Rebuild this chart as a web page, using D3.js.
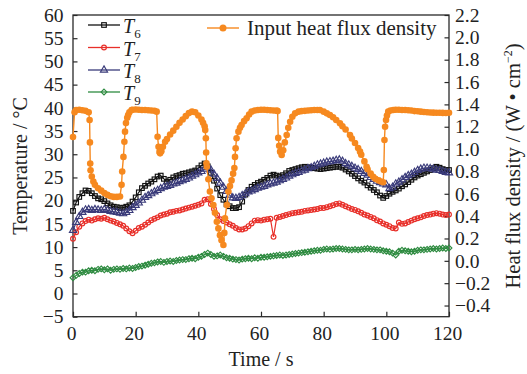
<!DOCTYPE html>
<html><head><meta charset="utf-8">
<script src="https://cdn.jsdelivr.net/npm/d3@7"></script>
<style>
body{margin:0;background:#fff}
svg{display:block}
text{font-family:"Liberation Serif","Times New Roman",serif;fill:#222}
</style>
</head><body>
<svg id="c" width="527" height="374"></svg>
<script>
// ---------- data ----------
const xTicks = [0, 20, 40, 60, 80, 100, 120];
const tempTicks = [-5, 0, 5, 10, 15, 20, 25, 30, 35, 40, 45, 50, 55, 60];
const fluxTicks = [-0.4, -0.2, 0.0, 0.2, 0.4, 0.6, 0.8, 1.0, 1.2, 1.4, 1.6, 1.8, 2.0, 2.2];

// temperatures sampled every 1 s, 0..120 s
const T6 = [17.8,19.6,20.8,21.6,22.2,22.1,21.6,21.0,20.5,20.3,
  19.9,19.4,19.0,18.7,18.6,18.4,18.5,18.7,19.0,19.8,
  20.7,21.8,22.7,23.2,23.7,24.1,24.6,25.2,25.4,24.7,
  24.1,24.5,25.0,25.3,25.5,25.8,25.9,26.1,26.3,26.5,
  27.0,27.6,28.0,27.4,26.0,24.3,22.6,21.2,20.2,19.2,
  18.8,18.4,18.4,18.6,19.8,21.3,22.3,23.0,23.4,23.8,
  24.1,24.5,24.9,25.4,25.6,25.4,25.2,25.5,25.9,26.4,
  26.6,26.8,27.0,27.2,27.3,27.2,27.1,27.0,26.9,26.8,
  26.9,27.0,27.1,27.2,27.3,27.3,27.1,26.7,26.3,25.8,
  25.3,24.8,24.3,23.9,23.3,22.8,22.3,21.8,21.1,20.6,
  21.0,21.5,21.9,22.2,22.6,23.1,23.5,24.0,24.5,25.0,
  25.4,25.7,26.0,26.3,26.6,27.0,27.3,27.1,26.8,26.6,
  26.6];
const T7 = [11.8,13.2,14.4,15.1,15.6,15.9,15.7,16.0,16.2,16.1,
  16.3,16.0,15.7,15.5,15.2,14.9,14.6,14.0,13.4,13.0,
  13.5,14.1,14.4,14.8,15.3,15.8,16.1,16.4,16.8,17.0,
  17.2,17.5,17.6,17.8,17.9,18.1,18.3,18.5,18.7,18.9,
  19.1,19.4,20.2,20.3,19.3,18.2,16.9,16.0,15.6,15.3,
  14.9,14.6,14.1,13.8,13.8,14.0,14.5,15.1,15.7,15.8,
  15.7,15.9,16.0,16.1,12.2,16.3,16.5,16.7,16.9,17.1,
  17.3,17.4,17.5,17.6,17.8,17.9,18.0,18.1,18.2,18.4,
  18.4,18.6,18.8,19.0,19.3,19.4,19.1,18.8,18.5,18.2,
  18.0,17.7,17.4,17.0,16.8,16.5,16.2,15.8,15.5,15.1,
  14.8,14.5,14.1,14.0,15.3,15.0,15.1,15.4,15.7,16.0,
  16.2,16.4,16.7,16.9,17.0,17.2,17.3,17.2,17.0,16.9,
  17.0];
const T8 = [13.6,15.3,16.6,17.5,18.0,18.1,17.9,18.1,18.0,17.9,
  18.1,17.9,17.7,17.6,17.5,17.3,17.2,17.5,17.9,18.5,
  19.0,19.5,20.1,20.7,21.1,21.5,21.9,22.2,22.6,22.9,
  23.1,23.3,23.6,23.8,24.1,24.3,24.6,24.9,25.3,25.6,
  26.0,26.3,26.8,27.2,26.6,25.7,24.8,23.8,22.9,22.0,
  21.2,20.6,20.5,20.7,21.1,21.5,21.9,22.1,22.4,22.7,
  22.9,23.1,23.4,23.6,23.8,24.0,24.3,24.6,24.9,25.3,
  25.6,25.9,26.1,26.4,26.6,26.9,27.1,27.4,27.7,27.9,
  28.1,28.3,28.4,28.5,28.7,28.8,28.5,28.0,27.7,27.4,
  27.0,26.7,26.3,25.9,25.5,25.0,24.6,24.2,23.9,23.6,
  23.4,22.6,22.9,23.6,24.0,24.5,25.0,25.4,25.7,26.1,
  26.5,26.8,27.0,27.0,26.9,26.8,26.6,26.5,26.3,26.1,
  26.0];
const T9 = [3.4,3.9,4.3,4.6,4.6,4.9,5.0,4.9,5.2,5.3,
  5.1,5.3,5.0,5.2,5.3,5.2,5.4,5.3,5.5,5.4,
  5.6,5.8,5.9,6.1,6.3,6.5,6.6,6.8,6.9,6.7,
  6.9,7.0,6.9,7.1,7.2,7.3,7.3,7.5,7.6,7.5,
  7.8,8.0,8.4,8.7,8.4,8.0,8.1,8.3,8.0,7.7,
  7.6,7.4,7.3,7.2,7.4,7.5,7.6,7.5,7.7,7.6,
  7.8,7.8,7.9,8.0,8.1,8.2,8.3,8.2,8.3,8.4,
  8.5,8.6,8.7,8.8,8.9,9.0,9.1,9.2,9.3,9.3,
  9.5,9.6,9.5,9.6,9.7,9.7,9.6,9.5,9.4,9.4,
  9.5,9.4,9.5,9.6,9.7,9.6,9.5,9.4,9.4,9.2,
  9.1,9.0,8.7,8.3,9.1,9.3,9.2,9.1,9.0,9.1,
  9.3,9.4,9.4,9.5,9.6,9.7,9.6,9.7,9.8,9.7,
  9.8];

// input heat flux density [time s, W/cm2]
const fluxData = [[0,1.108],[0.5,1.33],[1,1.35],[2,1.352],[3,1.348],[4,1.342],[5,1.33],
  [5.3,1.26],[5.4,1.06],[5.5,0.87],[5.6,0.81],[6,0.755],[6.5,0.71],[7,0.68],[8,0.65],[9,0.628],
  [10,0.606],[11,0.59],[12,0.578],[13,0.572],[14,0.572],[15,0.576],[15.5,0.68],[15.7,0.80],
  [16.1,0.93],[16.4,1.066],[16.6,1.156],[16.9,1.233],[17.3,1.28],[17.6,1.305],[18,1.33],
  [18.7,1.35],[19,1.352],[20,1.354],[21,1.352],[22,1.35],[23,1.35],[24,1.348],[25,1.345],
  [26,1.343],[26.7,1.335],[27,1.11],[27.3,1.02],[27.6,0.975],[27.8,0.962],[28.2,0.98],
  [28.7,1.02],[29.4,1.066],[30,1.09],[31,1.13],[32,1.165],[33,1.2],[34,1.235],[35,1.265],
  [36,1.295],[37,1.322],[38,1.335],[39,1.33],[40,1.30],[41,1.265],[41.5,1.235],[42,1.205],
  [42.2,1.17],[42.4,1.097],[42.5,0.97],[42.6,0.873],[42.7,0.842],[43.2,0.73],[43.7,0.62],
  [44.2,0.56],[44.8,0.5],[45.3,0.43],[45.9,0.35],[46.4,0.29],[46.9,0.23],[47.4,0.185],
  [48,0.142],[48.3,0.25],[48.5,0.381],[49.1,0.5],[49.6,0.62],[50.1,0.67],[50.6,0.72],
  [51.1,0.78],[51.5,0.83],[51.7,0.93],[51.9,1.007],[52.2,1.097],[52.8,1.156],[53.3,1.19],
  [53.8,1.216],[54.6,1.25],[55.4,1.276],[56.2,1.31],[57,1.335],[58,1.345],[59,1.35],
  [60,1.352],[61,1.352],[62,1.35],[63,1.348],[64,1.346],[65,1.344],[65.3,1.34],[65.5,1.10],
  [65.8,1.03],[66.1,0.977],[66.6,0.947],[67.1,0.99],[67.6,1.06],[68.2,1.126],[68.7,1.19],
  [69.3,1.245],[70,1.29],[70.9,1.32],[72,1.335],[73,1.34],[74,1.342],[75,1.345],[76,1.347],
  [77,1.35],[78,1.35],[78.8,1.35],[80,1.335],[81,1.32],[82,1.305],[83,1.285],[84,1.26],
  [85.2,1.231],[86,1.205],[87,1.175],[88.4,1.126],[89,1.095],[90,1.055],[91,1.01],[91.6,0.977],
  [92,0.95],[93,0.89],[93.7,0.842],[94,0.82],[95,0.78],[95.8,0.753],[96.5,0.735],[97.5,0.72],
  [98.3,0.71],[99,0.703],[99.2,0.813],[99.4,1.081],[99.6,1.2],[99.9,1.26],[100.2,1.30],
  [100.6,1.335],[101.3,1.345],[102.2,1.35],[103,1.352],[104,1.352],[105,1.35],[106,1.35],
  [107,1.348],[108,1.345],[109,1.34],[110,1.338],[111,1.335],[112,1.332],[113,1.33],
  [114,1.328],[115,1.326],[116,1.325],[117,1.325],[118,1.324],[119,1.323],[120,1.325]];

const tempSeries = [
  {key:"6", values:T6, color:"#111111", shape:"square"},
  {key:"7", values:T7, color:"#e8302a", shape:"circle"},
  {key:"8", values:T8, color:"#3a3b7a", shape:"triangle"},
  {key:"9", values:T9, color:"#2e8b40", shape:"diamond"}
];
const fluxLabel = "Input heat flux density";
const fluxColor = "#f6891f";

// ---------- layout ----------
const L = 73, R = 449, TOP = 15, BOT = 316.7;
const svg = d3.select("#c");
const x = d3.scaleLinear().domain([0, 120]).range([L, R]);
const yT = d3.scaleLinear().domain([-5, 60]).range([BOT, TOP]);
const yF = d3.scaleLinear().domain([-0.5, 2.2]).range([BOT, TOP]);
const axisColor = "#2a2a2a";

function styleAxis(g){
  g.select(".domain").remove();
  g.selectAll(".tick line").attr("stroke", axisColor).attr("stroke-width", 1.2);
  g.selectAll(".tick text").attr("fill", "#222").style("font-size", "19.5px")
    .style("font-family", '"Liberation Serif","Times New Roman",serif');
}
svg.append("g").attr("transform", `translate(0,${BOT})`)
  .call(d3.axisBottom(x).tickValues(xTicks).tickSize(-5).tickPadding(9))
  .call(styleAxis)
  .call(g => g.selectAll(".tick text").attr("dx", -2));
svg.append("g").attr("transform", `translate(${L},0)`)
  .call(d3.axisLeft(yT).tickValues(tempTicks).tickSize(-4.5).tickPadding(9.5))
  .call(styleAxis);
svg.append("g").attr("transform", `translate(${R},0)`)
  .call(d3.axisRight(yF).tickValues(fluxTicks).tickFormat(d3.format(".1f")).tickSize(-4.5).tickPadding(6))
  .call(styleAxis);

svg.append("rect").attr("x", L).attr("y", TOP).attr("width", R - L).attr("height", BOT - TOP)
  .attr("fill", "none").attr("stroke", axisColor).attr("stroke-width", 1.3);

// ---------- markers ----------
function marker(g, shape, color, cx, cy){
  const sw = 1.15;
  if (shape === "square") {
    g.append("rect").attr("x", cx - 2.3).attr("y", cy - 2.3).attr("width", 4.6).attr("height", 4.6)
      .attr("fill", "none").attr("stroke", color).attr("stroke-width", sw);
  } else if (shape === "circle") {
    g.append("circle").attr("cx", cx).attr("cy", cy).attr("r", 2.4)
      .attr("fill", "none").attr("stroke", color).attr("stroke-width", sw);
  } else if (shape === "triangle") {
    g.append("path").attr("d", d3.symbol(d3.symbolTriangle, 22)())
      .attr("transform", `translate(${cx},${cy})`)
      .attr("fill", "none").attr("stroke", color).attr("stroke-width", sw);
  } else {
    g.append("path").attr("d", "M0,-2.9L2.9,0L0,2.9L-2.9,0Z")
      .attr("transform", `translate(${cx},${cy})`)
      .attr("fill", "none").attr("stroke", color).attr("stroke-width", sw);
  }
}

const plot = svg.append("g");
tempSeries.forEach(s => {
  const g = plot.append("g");
  const line = d3.line().x((d, i) => x(i)).y(d => yT(d));
  g.append("path").datum(s.values).attr("d", line)
    .attr("fill", "none").attr("stroke", s.color).attr("stroke-width", 1.2);
  s.values.forEach((v, i) => marker(g, s.shape, s.color, x(i), yT(v)));
});

// flux
const fg = plot.append("g");
fg.append("path").datum(fluxData)
  .attr("d", d3.line().x(d => x(d[0])).y(d => yF(d[1])))
  .attr("fill", "none").attr("stroke", fluxColor).attr("stroke-width", 1.4);
fg.selectAll("circle").data(fluxData).join("circle")
  .attr("cx", d => x(d[0])).attr("cy", d => yF(d[1])).attr("r", 3.3)
  .attr("fill", fluxColor);

// ---------- legend ----------
const legY = [25, 47.5, 70, 92];
tempSeries.forEach((s, i) => {
  const g = svg.append("g");
  g.append("line").attr("x1", 88).attr("x2", 120).attr("y1", legY[i]).attr("y2", legY[i])
    .attr("stroke", s.color).attr("stroke-width", 1.3);
  marker(g, s.shape, s.color, 104, legY[i]);
  const t = g.append("text").attr("x", 123).attr("y", legY[i] + 8).style("font-size", "20px");
  t.append("tspan").text("T").style("font-style", "italic");
  t.append("tspan").text(s.key).attr("dy", 5).style("font-size", "13px");
});
svg.append("line").attr("x1", 207).attr("x2", 239).attr("y1", 28).attr("y2", 28)
  .attr("stroke", fluxColor).attr("stroke-width", 1.4);
svg.append("circle").attr("cx", 223).attr("cy", 28).attr("r", 3.5).attr("fill", fluxColor);
svg.append("text").attr("x", 247).attr("y", 35).style("font-size", "21px").text(fluxLabel);

// ---------- titles ----------
svg.append("text").attr("text-anchor", "middle")
  .attr("transform", `translate(${(L + R) / 2},366)`).style("font-size", "20px").text("Time / s");
svg.append("text").attr("text-anchor", "middle")
  .attr("transform", `translate(27,166) rotate(-90)`).style("font-size", "20px")
  .text("Temperature / °C");
const rt = svg.append("text").attr("text-anchor", "middle")
  .attr("transform", `translate(520,166) rotate(-90)`).style("font-size", "20.5px");
rt.append("tspan").text("Heat flux density / (W • cm");
rt.append("tspan").text("−2").attr("dy", -8).style("font-size", "12px");
rt.append("tspan").text(")").attr("dy", 8);
</script>
</body></html>
